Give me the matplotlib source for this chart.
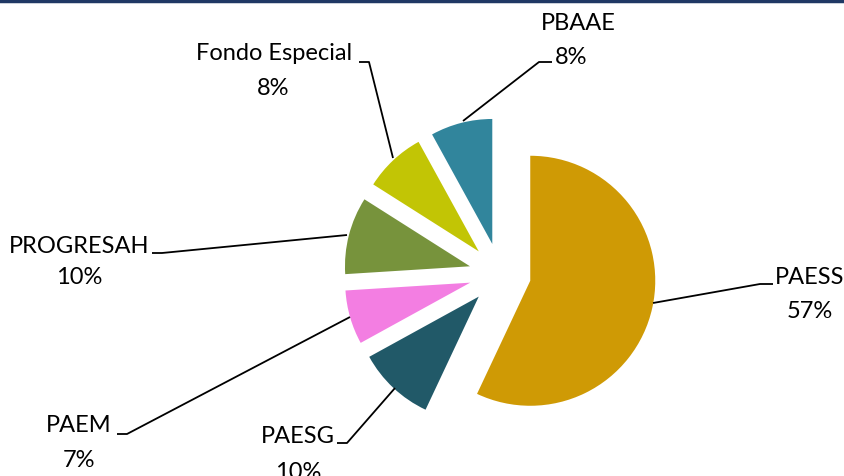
import matplotlib.pyplot as plt

# ____________________ data ____________________ #

programs = ["PAESS", "PAESG", "PAEM", "PROGRESAH", "Fondo Especial", "PBAAE"]
shares = [57, 10, 7, 10, 8, 8]
colors = ["#CF9A05", "#215968", "#F37EE2", "#77933C", "#C2C505", "#31859C"]

# ____________________ layout (pixel coords, y measured from top) ____________________ #

W, H = 845, 476
PIE_CENTER = (500, 274)
PIE_RADIUS = 125
EXPLODE = 31

# name position, percent position, leader line points
label_layout = {
    "PAESS": ((810, 277), (810, 311), [(653, 303), (760, 284), (773, 284)]),
    "PAESG": ((298, 437), (298, 473), [(395, 388), (347, 443), (337, 443)]),
    "PAEM": ((79, 426), (79, 461), [(350, 317), (127, 434), (117, 434)]),
    "PROGRESAH": ((79, 246), (79, 278), [(347, 235), (162, 253), (152, 253)]),
    "Fondo Especial": ((274, 53), (273, 88), [(393, 158), (369, 62), (359, 62)]),
    "PBAAE": ((578, 23), (571, 57), [(463, 121), (539, 62), (552, 62)]),
}


def flip(p):
    # convert top-based pixel y into the axes' bottom-based y
    return p[0], H - p[1]


plt.rcParams['font.family'] = ['Lato', 'DejaVu Sans']

fig = plt.figure(figsize=(W / 100, H / 100), dpi=100)
ax = fig.add_axes([0, 0, 1, 1])

ax.pie(
    shares,
    colors=colors,
    startangle=90,
    counterclock=False,
    radius=PIE_RADIUS,
    center=flip(PIE_CENTER),
    explode=[EXPLODE] * len(shares),
    wedgeprops=dict(linewidth=0),
)

ax.set_xlim(0, W)
ax.set_ylim(0, H)
ax.set_aspect('equal')
ax.axis('off')

# Leader lines and labels
for name, value in zip(programs, shares):
    name_pos, pct_pos, pts = label_layout[name]
    pts = [flip(p) for p in pts]
    ax.plot([p[0] for p in pts], [p[1] for p in pts], color='black', lw=1.3,
            solid_capstyle='butt', zorder=1)
    ax.text(*flip(name_pos), name, ha='center', va='center', fontsize=17,
            color='black')
    ax.text(*flip(pct_pos), f"{value}%", ha='center', va='center',
            fontsize=17, color='black')

# thin dark border along the top edge
ax.plot([0, W], [H - 1, H - 1], color='#1F3864', lw=2.5, clip_on=False)

fig.savefig("out.png", dpi=100)
